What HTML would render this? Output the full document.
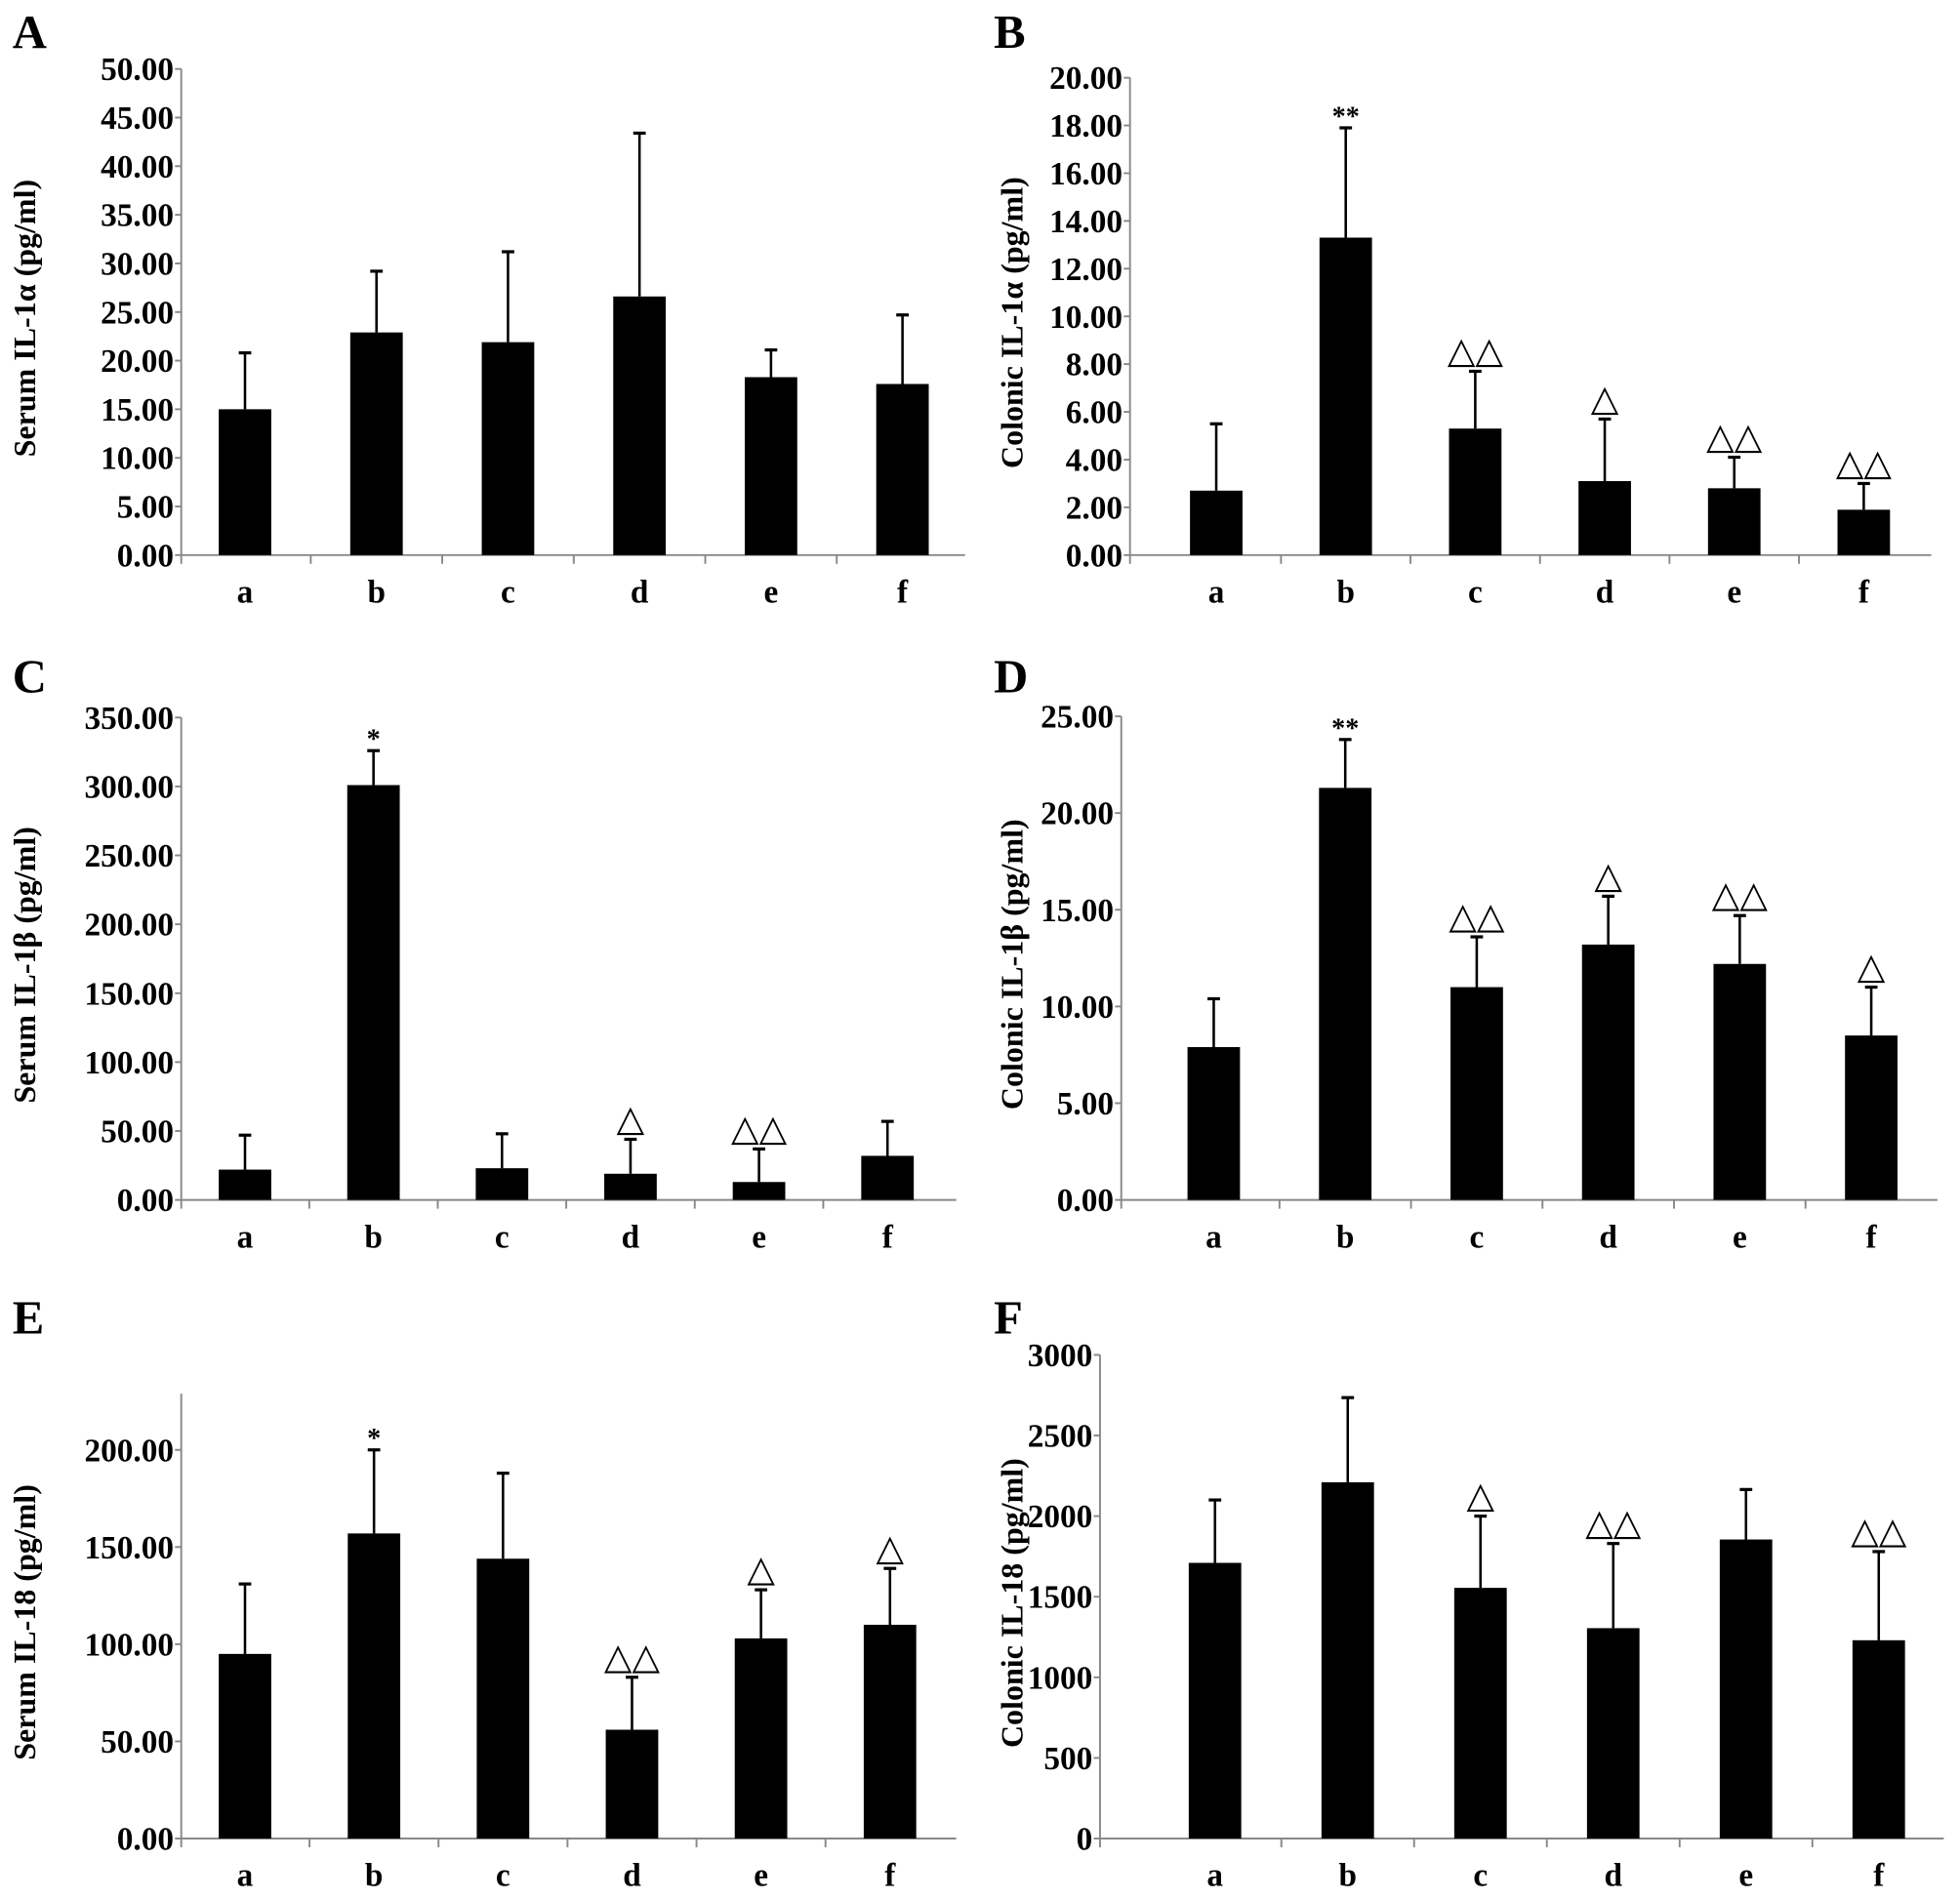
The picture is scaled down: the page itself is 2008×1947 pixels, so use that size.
<!DOCTYPE html>
<html><head><meta charset="utf-8">
<style>
html,body{margin:0;padding:0;background:#fff;}
svg{display:block;}
text{font-family:"Liberation Serif","DejaVu Serif",serif;}
</style></head>
<body>
<svg id="fig" width="2008" height="1947" viewBox="0 0 1568 1520" xmlns="http://www.w3.org/2000/svg"></svg>
<script>
const categories = ["a","b","c","d","e","f"];

const valuesA = [15.0, 22.9, 21.9, 26.6, 18.3, 17.6];
const errTopA = [20.8, 29.2, 31.2, 43.4, 21.1, 24.7];
const annotA = ["","","","","",""];
const ticksA = [0,5,10,15,20,25,30,35,40,45,50];

const valuesB = [2.7, 13.3, 5.3, 3.1, 2.8, 1.9];
const errTopB = [5.5, 17.9, 7.7, 5.7, 4.1, 3.0];
const annotB = ["","**","△△","△","△△","△△"];
const ticksB = [0,2,4,6,8,10,12,14,16,18,20];

const valuesC = [22, 301, 23, 19, 13, 32];
const errTopC = [47, 326, 48, 44, 37, 57];
const annotC = ["","*","","△","△△",""];
const ticksC = [0,50,100,150,200,250,300,350];

const valuesD = [7.9, 21.3, 11.0, 13.2, 12.2, 8.5];
const errTopD = [10.4, 23.8, 13.6, 15.7, 14.7, 11.0];
const annotD = ["","**","△△","△","△△","△"];
const ticksD = [0,5,10,15,20,25];

const valuesE = [95, 157, 144, 56, 103, 110];
const errTopE = [131, 200, 188, 83, 128, 139];
const annotE = ["","*","","△△","△","△"];
const ticksE = [0,50,100,150,200];

const valuesF = [1710, 2210, 1555, 1305, 1855, 1230];
const errTopF = [2100, 2735, 2000, 1830, 2165, 1780];
const annotF = ["","","△","△△","","△△"];
const ticksF = [0,500,1000,1500,2000,2500,3000];

const NS = "http://www.w3.org/2000/svg";
const svg = document.getElementById("fig");
function mk(tag, attrs, parent){
  const e = document.createElementNS(NS, tag);
  for (const k in attrs) e.setAttribute(k, attrs[k]);
  (parent||svg).appendChild(e);
  return e;
}

const panels = [
 {id:"a", letter:"A", lx:10, ly:38, ax:145, x1:772, c0:196, step:105.2, y0:444, yTopPix:55, vmax:50, axTop:55, ticks:ticksA, dec:2, vals:valuesA, err:errTopA, ann:annotA, ylab:"Serum IL-1α (pg/ml)", labx:28},
 {id:"b", letter:"B", lx:795, ly:38, ax:904, x1:1545, c0:973, step:103.6, y0:444, yTopPix:62, vmax:20, axTop:62, ticks:ticksB, dec:2, vals:valuesB, err:errTopB, ann:annotB, ylab:"Colonic IL-1α (pg/ml)", labx:818},
 {id:"c", letter:"C", lx:10, ly:554, ax:145, x1:765, c0:196, step:102.8, y0:960, yTopPix:574, vmax:350, axTop:574, ticks:ticksC, dec:2, vals:valuesC, err:errTopC, ann:annotC, ylab:"Serum IL-1β (pg/ml)", labx:28},
 {id:"d", letter:"D", lx:795, ly:554, ax:897, x1:1550, c0:971, step:105.2, y0:960, yTopPix:573, vmax:25, axTop:573, ticks:ticksD, dec:2, vals:valuesD, err:errTopD, ann:annotD, ylab:"Colonic IL-1β (pg/ml)", labx:818},
 {id:"e", letter:"E", lx:10, ly:1067, ax:145, x1:765, c0:196, step:103.2, y0:1471, yTopPix:1160, vmax:200, axTop:1115, ticks:ticksE, dec:2, vals:valuesE, err:errTopE, ann:annotE, ylab:"Serum IL-18 (pg/ml)", labx:28},
 {id:"f", letter:"F", lx:795, ly:1067, ax:880, x1:1555, c0:972, step:106.2, y0:1471, yTopPix:1084, vmax:3000, axTop:1084, ticks:ticksF, dec:0, vals:valuesF, err:errTopF, ann:annotF, ylab:"Colonic IL-18 (pg/ml)", labx:818}
];

panels.forEach(p => {
  const g = mk("g", {});
  
  
  const yScale = v => p.y0 - (v / p.vmax) * (p.y0 - p.yTopPix);
  const xCenter = i => p.c0 + p.step * i;

  const L = mk("text", {x:p.lx, y:p.ly, "font-size":38, "font-weight":"bold"}, g);
  L.textContent = p.letter;
  
  

  const yl = mk("text", {x:0, y:0, "font-size":25, "font-weight":"bold", "text-anchor":"middle",
    transform:`translate(${p.labx},${(p.y0 + p.axTop)/2 + 5}) rotate(-90)`}, g);
  yl.textContent = p.ylab;
  
  

  const yax = mk("line", {x1:p.ax, y1:p.axTop, x2:p.ax, y2:p.y0, stroke:"#888", "stroke-width":1.5}, g);
  
  
  const xax = mk("line", {x1:p.ax, y1:p.y0, x2:p.x1, y2:p.y0, stroke:"#888", "stroke-width":1.5}, g);
  
  

  p.ticks.forEach(t => {
    const y = yScale(t);
    mk("line", {x1:p.ax - 5, y1:y, x2:p.ax, y2:y, stroke:"#888", "stroke-width":1.5}, g);
    const tl = mk("text", {x:p.ax - 6, y:y + 9, "font-size":26, "font-weight":"bold", "text-anchor":"end"}, g);
    tl.textContent = t.toFixed(p.dec);
    
    
  });

  for (let i = 1; i < categories.length; i++) {
    const x = p.c0 + p.step * (i - 0.5);
    mk("line", {x1:x, y1:p.y0, x2:x, y2:p.y0 + 7, stroke:"#888", "stroke-width":1.5}, g);
  }
  mk("line", {x1:p.ax, y1:p.y0, x2:p.ax, y2:p.y0 + 7, stroke:"#888", "stroke-width":1.5}, g);

  categories.forEach((c, i) => {
    const cx = xCenter(i);
    const yv = yScale(p.vals[i]);
    const ye = yScale(p.err[i]);
    const bar = mk("rect", {x:cx - 21, y:yv, width:42, height:p.y0 - yv, fill:"#000"}, g);
    
    
    const eb = mk("line", {x1:cx, y1:yv, x2:cx, y2:ye, stroke:"#000", "stroke-width":2}, g);
    
    
    mk("line", {x1:cx - 5, y1:ye, x2:cx + 5, y2:ye, stroke:"#000", "stroke-width":2.5}, g);

    const xl = mk("text", {x:cx, y:p.y0 + 38, "font-size":26, "font-weight":"bold", "text-anchor":"middle"}, g);
    xl.textContent = c;
    
    

    if (p.ann[i]) {
      const isStar = p.ann[i].indexOf("*") >= 0;
      const an = mk("text", {x:cx, y: isStar ? ye - 2 : ye - 7, "font-size": isStar ? 22 : 29,
        "font-weight": isStar ? "bold" : "normal", "text-anchor":"middle",
        "font-family":'"DejaVu Sans","Liberation Sans",sans-serif'}, g);
      an.textContent = p.ann[i];
      
      
    }
  });
});
</script>
</body></html>
